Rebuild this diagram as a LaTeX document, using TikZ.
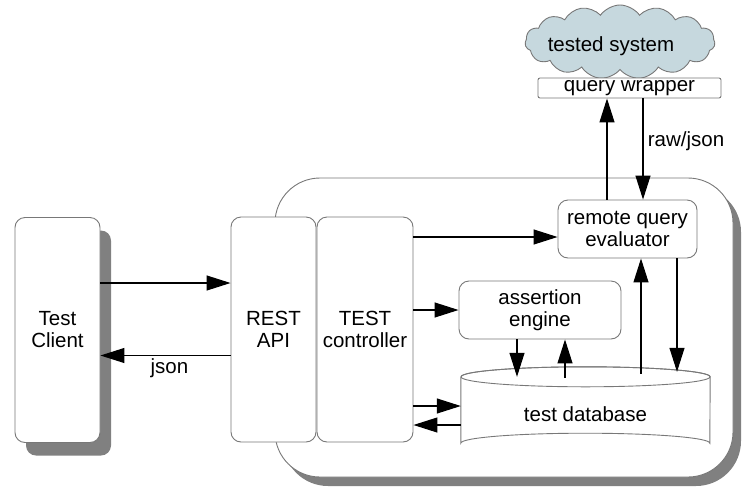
\documentclass[tikz,border=0pt]{standalone}
\usepackage{fontspec}
\setmainfont{Liberation Sans}
\usetikzlibrary{arrows.meta,shapes.symbols,shadows}
\definecolor{edgegray}{RGB}{120,120,120}
\definecolor{shadowgray}{RGB}{128,128,128}
\definecolor{cloudfill}{RGB}{198,216,222}
\begin{document}
\begin{tikzpicture}[x=1pt,y=-1pt,
  font=\fontsize{20.5}{22}\selectfont,
  box/.style={draw=edgegray, line width=0.9pt, rounded corners=10pt, fill=white, align=center, inner sep=0pt},
  arr/.style={line width=1.1pt, -{Triangle[length=24pt,width=15pt]}},
  shadowed/.style={drop shadow={shadow xshift=11pt, shadow yshift=-13pt, fill=shadowgray, opacity=1}}
]
\useasboundingbox (0,0) rectangle (745,491);
% container with shadow
\fill[shadowgray, rounded corners=45pt] (283,187) rectangle (741,486);
\draw[edgegray, line width=0.9pt, fill=white, rounded corners=45pt] (275,178) rectangle (733,477);
% nodes
\node[box, shadowed, minimum width=85pt, minimum height=225pt] (client) at (57.5,330) {Test\\Client};
\node[box, minimum width=85pt, minimum height=225pt] (rest) at (273.5,329.5) {REST\\API};
\node[box, minimum width=96pt, minimum height=225pt] (ctrl) at (365,329.5) {TEST\\controller};
\node[box, minimum width=139pt, minimum height=58pt] (remote) at (627.5,229) {remote query\\evaluator};
\node[box, minimum width=162pt, minimum height=58pt] (assert) at (540,310) {assertion\\engine};
\node[inner sep=0pt, minimum width=249pt, minimum height=66pt] (db) at (585.5,410) {};
\draw[edgegray, line width=0.9pt, fill=white]
  (db.north west) -- (db.south west) arc[start angle=180, end angle=360, x radius=124.5pt, y radius=-10pt]
  -- (db.north east) arc[start angle=0, end angle=-180, x radius=124.5pt, y radius=-10pt];
\draw[edgegray, line width=0.9pt] (db.north) ellipse[x radius=124.5pt, y radius=10pt];
\node at ([yshift=-4pt]db.center) {test database};
\node[draw=edgegray, line width=0.9pt, shape=cloud, cloud puffs=15, cloud puff arc=110, aspect=2.6,
  minimum width=190pt, minimum height=74pt, fill=cloudfill, inner sep=0pt] (cloud) at (620,42) {};
\node at (611,46) {tested system};
\node[draw=edgegray, line width=0.9pt, rounded corners=2pt, fill=white, minimum width=183pt, minimum height=20pt, inner sep=0pt] (qw) at (629.5,88) {query wrapper};
% connectors
\draw[arr] ([yshift=47pt]client.east) -- ([yshift=47pt]client.east -| rest.west);
\draw[arr] ([yshift=-26pt]rest.west) -- ([yshift=-26pt]rest.west -| client.east)
  node[pos=0.47, below=-1pt] {json};
\draw[arr] ([yshift=-8pt]remote.west -| ctrl.east) -- ([yshift=-8pt]remote.west);
\draw[arr] (ctrl.east |- assert.west) -- (assert.west);
\draw[arr] ([yshift=4pt]db.west -| ctrl.east) -- ([yshift=4pt]db.west);
\draw[arr] ([yshift=-15pt]db.west) -- ([yshift=-15pt]db.west -| ctrl.east);
\draw[arr] ([xshift=-23pt]assert.south) -- ([xshift=-23pt]assert.south |- db.north);
\draw[arr] ([xshift=25pt,yshift=-1pt]assert.south |- db.north) -- ([xshift=25pt]assert.south);
\draw[arr] ([xshift=13.5pt,yshift=3pt]remote.south |- db.north) -- ([xshift=13.5pt]remote.south);
\draw[arr] ([xshift=49.5pt]remote.south) -- ([xshift=49.5pt,yshift=5pt]remote.south |- db.north);
\draw[arr] ([xshift=-20.5pt]remote.north) -- ([xshift=-20.5pt]remote.north |- qw.south);
\draw[arr] ([xshift=13.5pt]qw.south) -- ([xshift=13.5pt]qw.south |- remote.north)
  node[pos=0.42, right=1pt] {raw/json};
\end{tikzpicture}
\end{document}
